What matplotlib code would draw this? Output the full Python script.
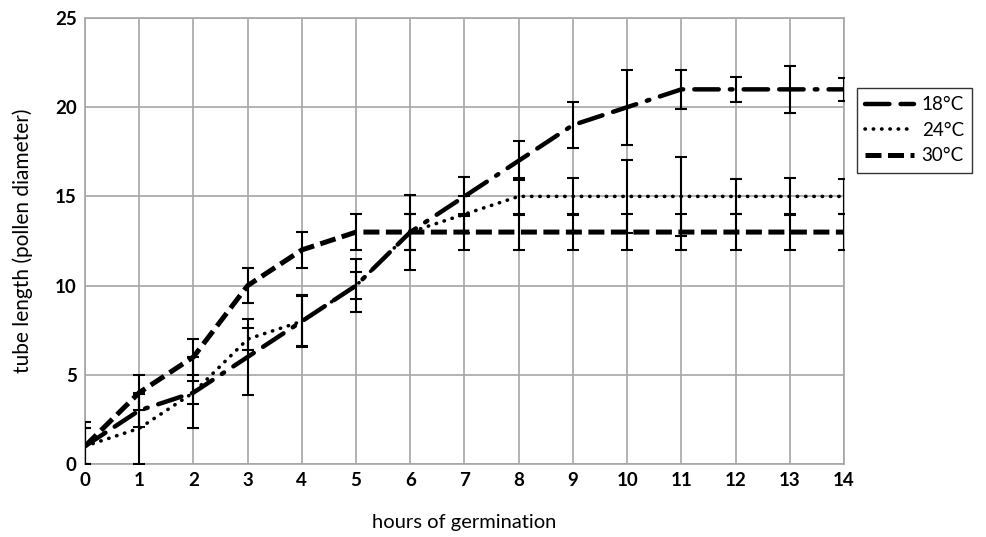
import matplotlib
matplotlib.use("Agg")
import matplotlib.pyplot as plt
from matplotlib.lines import Line2D

hours = list(range(15))
t18 = [1, 3, 4, 6, 8, 10, 13, 15, 17, 19, 20, 21, 21, 21, 21]
t24 = [1, 2, 4, 7, 8, 10, 13, 14, 15, 15, 15, 15, 15, 15, 15]
t30 = [1, 4, 6, 10, 12, 13, 13, 13, 13, 13, 13, 13, 13, 13, 13]
e18 = [1.0, 0.9, 0.65, 2.15, 1.45, 1.5, 2.1, 1.1, 1.1, 1.3, 2.1, 1.1, 0.7, 1.3, 0.65]
e24 = [1.0, 2.0, 2.0, 0.6, 1.4, 0.75, 1.0, 1.05, 1.05, 1.05, 2.05, 2.2, 1.0, 1.05, 1.0]
e30 = [1.37, 1.0, 1.0, 1.0, 1.0, 1.0, 1.0, 1.0, 1.0, 1.0, 1.0, 1.0, 1.0, 1.0, 1.0]
labels = ["18°C", "24°C", "30°C"]

plt.rcParams['font.family'] = ['Lato', 'DejaVu Sans']

fig = plt.figure(figsize=(9.87, 5.37), dpi=100)
ax = fig.add_axes([85/987, 1-464/537, (844-85)/987, (464-18)/537])

grid_c = '#a6a6a6'
ls18 = (0, (5.5, 2.5, 5.5, 2.5, 0.6, 2.5))
ls24 = (0, (0.1, 2.2))
ls30 = (0, (3.2, 1.3))

for y, e in [(t18, e18), (t24, e24), (t30, e30)]:
    ax.errorbar(hours, y, yerr=e, fmt='none', ecolor='black', elinewidth=1.5,
                capsize=4, capthick=1.5, zorder=3)

ax.plot(hours, t18, color='black', lw=3.2, linestyle=ls18, dash_capstyle='round', zorder=4)
ax.plot(hours, t24, color='black', lw=2.6, linestyle=ls24, dash_capstyle='round', zorder=4)
ax.plot(hours, t30, color='black', lw=3.6, linestyle=ls30, dash_capstyle='butt', zorder=4)

ax.set_xlim(0, 14)
ax.set_ylim(0, 25)
ax.set_xticks(hours)
ax.set_yticks([0, 5, 10, 15, 20, 25])
ax.grid(True, color=grid_c, lw=1.2)
ax.set_axisbelow(True)
for s in ax.spines.values():
    s.set_color(grid_c)
    s.set_linewidth(1.2)
ax.tick_params(length=0, labelsize=13.5, pad=6)
for t in ax.get_xticklabels() + ax.get_yticklabels():
    t.set_fontweight('bold')
ax.set_xlabel('hours of germination', fontsize=14.5, labelpad=18)
ax.set_ylabel('tube length (pollen diameter)', fontsize=15, labelpad=16)

handles = [
    Line2D([], [], color='black', lw=3.2, linestyle=ls18, dash_capstyle='round'),
    Line2D([], [], color='black', lw=2.6, linestyle=ls24, dash_capstyle='round'),
    Line2D([], [], color='black', lw=3.6, linestyle=ls30),
]
leg = fig.legend(handles, labels, loc='upper left', bbox_to_anchor=(857/987, 1-88/537),
                 frameon=True, fancybox=False, edgecolor='black', fontsize=13.5,
                 handlelength=2.6, borderpad=0.45, labelspacing=0.45, handletextpad=0.4,
                 borderaxespad=0)
leg.get_frame().set_linewidth(1.0)

fig.savefig('out.png', dpi=100)
